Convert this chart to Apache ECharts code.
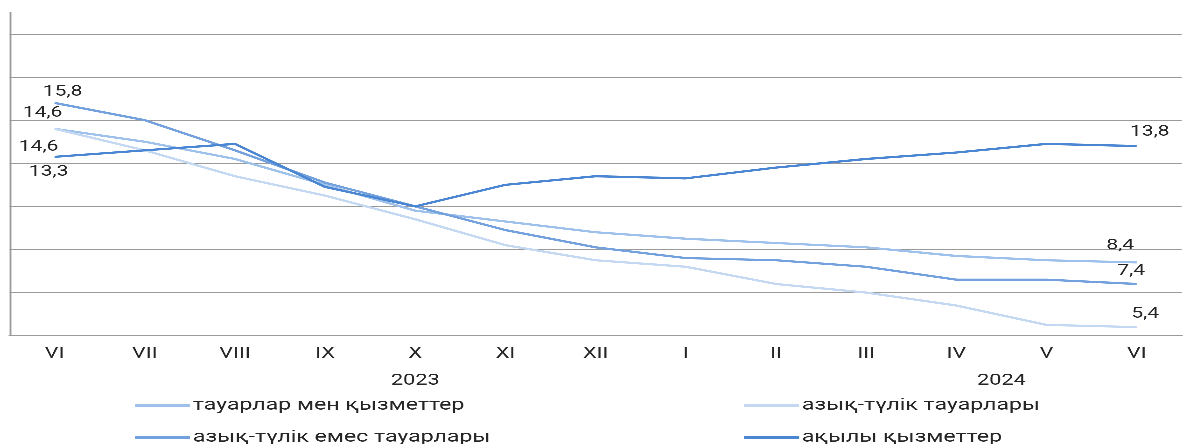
<!DOCTYPE html>
<html>
<head>
<meta charset="utf-8">
<script src="https://cdn.jsdelivr.net/npm/echarts@6/dist/echarts.min.js"></script>
<style>
html,body{margin:0;padding:0;background:#fff;overflow:hidden;width:1186px;height:444px;}
#wrap{position:absolute;left:0;top:0;height:444px;transform-origin:0 0;}
</style>
</head>
<body>
<div id="wrap"></div>
<script>
// ---- data ----
const categories = ['VI','VII','VIII','IX','X','XI','XII','I','II','III','IV','V','VI'];
const yearLabels = [{text:'2023', at:4}, {text:'2024', at:10.5}];
const seriesNames = ['тауарлар мен қызметтер','азық-түлік тауарлары','азық-түлік емес тауарлары','ақылы қызметтер'];
const totalValues    = [14.6, 14.0, 13.2, 12.0, 10.8, 10.3, 9.8, 9.5, 9.3, 9.1, 8.7, 8.5, 8.4];
const foodValues     = [14.6, 13.6, 12.4, 11.5, 10.4, 9.2, 8.5, 8.2, 7.4, 7.0, 6.4, 5.5, 5.4];
const nonfoodValues  = [15.8, 15.0, 13.6, 12.1, 11.0, 9.9, 9.1, 8.6, 8.5, 8.2, 7.6, 7.6, 7.4];
const serviceValues  = [13.3, 13.6, 13.9, 11.9, 11.0, 12.0, 12.4, 12.3, 12.8, 13.2, 13.5, 13.9, 13.8];

// ---- layout / style ----
const S = 1.4; // horizontal stretch of the reference
const W = 1186 / S;
const wrap = document.getElementById('wrap');
wrap.style.width = W + 'px';
wrap.style.transform = 'scaleX(' + S + ')';

const colors = ['#9dc1ea', '#c4d8f1', '#72a1dd', '#4a86d2'];
const labelOffsets = [
  {first:[-12/S,-16], last:[-16.5/S,-17]},
  {first:[-16/S, 18], last:[8.5/S,-13]},
  {first:[8/S,-11],   last:[-5.5/S,-13]},
  {first:[-6/S, 15],  last:[13/S,-14]}
];
const allValues = [totalValues, foodValues, nonfoodValues, serviceValues];
const fmt = v => v.toFixed(1).replace('.', ',');
const textColor = '#262626';
const gridColor = '#9a9a9a';
const FONT = 'Roboto';

const yearAxisData = new Array(categories.length * 2 + 1).fill('');
yearLabels.forEach(y => { yearAxisData[Math.round(y.at * 2 + 1)] = y.text; });

const series = allValues.map((vals, si) => ({
  name: seriesNames[si],
  type: 'line',
  symbol: 'circle',
  symbolSize: 0.1,
  showAllSymbol: true,
  itemStyle: {color: colors[si], opacity: 0},
  lineStyle: {color: colors[si], width: 2.2},
  emphasis: {disabled: true},
  silent: true,
  z: 2 + si,
  data: vals.map((v, i) => {
    if (i === 0 || i === vals.length - 1) {
      return {
        value: v,
        label: {
          show: true, position: 'inside',
          offset: i === 0 ? labelOffsets[si].first : labelOffsets[si].last,
          formatter: p => fmt(p.value),
          color: textColor, fontSize: 15, fontFamily: FONT, opacity: 1
        }
      };
    }
    return v;
  })
}));

const legendPos = [
  {left: 135 / S, top: 397},
  {left: 744 / S, top: 397},
  {left: 135 / S, top: 429},
  {left: 744 / S, top: 429}
];
const legends = seriesNames.map((n, i) => ({
  data: [n],
  left: legendPos[i].left,
  top: legendPos[i].top,
  orient: 'horizontal',
  icon: 'rect',
  itemWidth: 55 / S,
  itemHeight: 2.5,
  itemGap: 0,
  padding: 0,
  selectedMode: false,
  textStyle: {color: textColor, fontSize: 16.5, fontFamily: FONT, padding: [0, 0, 0, -3]},
  itemStyle: {color: colors[i], opacity: 1, borderWidth: 0}
}));

const chart = echarts.init(wrap, null, {renderer: 'canvas', devicePixelRatio: 3, width: W, height: 444});
chart.setOption({
  animation: false,
  backgroundColor: '#ffffff',
  grid: {left: 9.5 / S, right: W - 1192.5 / S, top: 12.4, bottom: 444 - 335.7, containLabel: false},
  legend: legends,
  xAxis: [
    {
      type: 'category', data: categories, boundaryGap: true,
      axisLine: {show: true, lineStyle: {color: gridColor, width: 1.3}},
      axisTick: {show: false},
      axisLabel: {interval: 0, margin: 10, color: textColor, fontSize: 15.5, fontFamily: FONT}
    },
    {
      type: 'category', data: yearAxisData, boundaryGap: false, position: 'bottom', offset: 27,
      axisLine: {show: false}, axisTick: {show: false}, splitLine: {show: false},
      axisLabel: {interval: 0, margin: 10, color: textColor, fontSize: 15.5, fontFamily: FONT}
    }
  ],
  yAxis: {
    type: 'value', min: 5, max: 20, interval: 2,
    axisLine: {show: true, lineStyle: {color: gridColor, width: 1.3}},
    axisTick: {show: false},
    axisLabel: {show: false},
    splitLine: {show: true, showMaxLine: false, showMinLine: false, lineStyle: {color: gridColor, width: 1.3}}
  },
  series: series
});
</script>
</body>
</html>
